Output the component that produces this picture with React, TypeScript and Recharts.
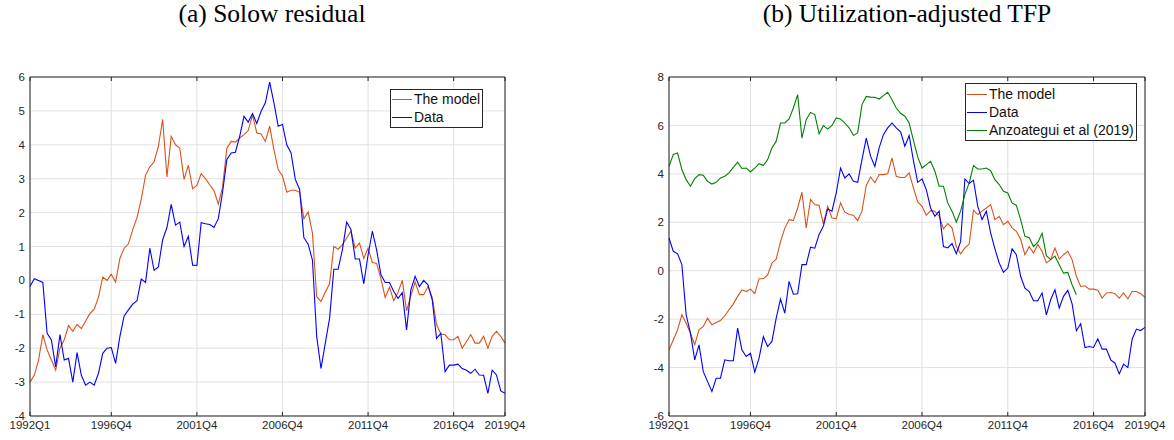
import * as React from "react";
import { LineChart, Line, XAxis, YAxis, CartesianGrid, Legend } from "recharts";

// quarterly sample 1992Q1 .. 2019Q4
const quarters = Array.from({ length: 112 }, (_, i) => `${1992 + Math.floor(i / 4)}Q${(i % 4) + 1}`);
const quarterTicks = ["1992Q1", "1996Q4", "2001Q4", "2006Q4", "2011Q4", "2016Q4", "2019Q4"];

// (a) Solow residual
const solowModel = [
  -3.0, -2.8, -2.35, -1.6, -2.05, -2.35, -2.65, -2.0, -1.75, -1.33, -1.5, -1.3, -1.42, -1.2, -0.98, -0.85,
  -0.5, 0.1, 0.0, 0.18, -0.05, 0.65, 0.95, 1.08, 1.5, 1.85, 2.4, 3.1, 3.35, 3.5, 3.95, 4.75,
  3.05, 4.25, 4.0, 3.9, 2.98, 3.4, 2.7, 2.8, 3.15, 3.0, 2.82, 2.65, 2.25, 2.75, 3.9, 4.1,
  4.08, 4.2, 4.3, 4.42, 4.88, 4.35, 4.32, 4.1, 4.55, 3.86, 3.27, 3.08, 2.6, 2.66, 2.66, 2.6,
  1.82, 2.02, 1.4, -0.48, -0.62, -0.35, -0.1, 1.0, 0.92, 1.05, 1.25, 1.45, 0.95, 1.1, 0.65, 0.95,
  0.53, 0.5, 0.05, -0.5, -0.2, -0.6, -0.35, 0.0, -0.9, -0.45, -0.05, -0.42, -0.42, -0.18, -0.5, -1.3,
  -1.58, -1.6, -1.75, -1.75, -1.65, -2.0, -1.8, -1.6, -1.85, -1.85, -1.65, -2.0, -1.65, -1.5, -1.65, -1.85,
];
const solowData = [
  -0.18, 0.05, 0.0, -0.06, -1.56, -1.76, -2.55, -1.6, -2.35, -2.3, -3.0, -2.13, -2.8, -3.09, -3.0, -3.09,
  -2.74, -2.15, -2.0, -1.98, -2.45, -1.66, -1.05, -0.87, -0.7, -0.6, 0.04, -0.06, 0.95, 0.3, 0.4, 1.2,
  1.56, 2.24, 1.63, 1.72, 1.0, 1.3, 0.45, 0.44, 1.7, 1.67, 1.65, 1.56, 1.82, 2.6, 3.57, 3.76,
  3.78, 4.25, 4.84, 4.67, 4.92, 4.63, 4.99, 5.24, 5.85, 5.24, 4.55, 4.6, 4.0, 3.76, 2.98, 2.69,
  1.26, 1.07, 0.6, -1.66, -2.6, -1.86, -1.12, 0.33, 0.33, 0.9, 1.72, 1.5, 0.63, 0.63, -0.1, 0.75,
  1.45, 0.9, 0.17, -0.06, -0.06, -0.33, -0.53, -0.36, -1.46, -0.28, 0.12, -0.18, 0.0, -0.13, -0.58, -1.71,
  -1.56, -2.69, -2.5, -2.5, -2.47, -2.6, -2.65, -2.74, -2.62, -2.79, -2.8, -3.33, -2.65, -2.79, -3.26, -3.33,
];

// (b) Utilization-adjusted TFP
const tfpModel = [
  -3.27, -2.86, -2.44, -1.82, -2.17, -2.58, -3.06, -2.44, -2.3, -1.96, -2.23, -2.14, -2.06, -1.86, -1.61, -1.37,
  -1.06, -0.79, -0.86, -0.76, -0.95, -0.33, -0.33, -0.17, 0.32, 0.48, 1.2, 1.75, 2.11, 2.07, 2.59, 3.24,
  1.77, 2.94, 2.73, 2.7, 1.93, 2.66, 2.18, 2.15, 2.8, 2.42, 2.32, 2.29, 2.07, 2.46, 3.52, 3.87,
  3.63, 3.97, 3.97, 4.0, 4.66, 3.9, 3.85, 3.85, 4.04, 3.42, 2.84, 2.66, 2.29, 2.48, 2.46, 2.25,
  1.73, 1.95, 1.77, 1.0, 0.7, 0.94, 1.1, 2.5, 2.32, 2.46, 2.59, 2.73, 2.11, 2.25, 1.9, 2.04,
  1.77, 1.63, 1.3, 0.66, 1.0, 0.73, 1.08, 0.8, 0.32, 0.46, 0.94, 0.48, 0.66, 0.8, 0.46, -0.23,
  -0.65, -0.62, -0.76, -0.76, -0.81, -1.13, -0.92, -0.9, -0.95, -1.13, -0.92, -1.16, -0.86, -0.86, -0.95, -1.1,
];
const tfpData = [
  1.35, 0.8, 0.7, 0.25, -1.82, -2.58, -3.68, -3.06, -4.17, -4.58, -4.99, -4.44, -4.44, -3.68, -3.72, -3.72,
  -2.37, -3.27, -3.54, -3.41, -4.19, -3.61, -2.72, -3.13, -2.92, -1.96, -1.17, -1.75, -0.44, -0.97, -0.95, 0.25,
  0.25, 0.97, 0.93, 1.5, 1.84, 2.55, 2.46, 3.21, 4.24, 3.83, 4.0, 3.69, 3.65, 4.59, 5.48, 4.73,
  4.31, 5.07, 5.62, 5.9, 6.1, 5.9, 5.74, 5.14, 5.58, 4.55, 3.65, 3.79, 3.35, 2.59, 2.25, 2.46,
  1.0, 0.94, 1.12, 0.7, 1.2, 3.79, 3.6, 3.74, 2.66, 2.11, 2.46, 1.56, 0.9, 0.32, -0.07, 0.11,
  0.9, 0.66, -0.23, -0.72, -0.86, -1.24, -1.24, -0.92, -1.82, -1.2, -0.79, -1.54, -1.06, -0.81, -1.37, -2.48,
  -2.19, -3.17, -3.13, -3.17, -2.81, -3.24, -3.24, -3.68, -3.82, -4.26, -3.86, -4.0, -2.83, -2.41, -2.47, -2.34,
];
// Anzoategui et al (2019) series stops in 2015Q4
const tfpAnzoategui = [
  4.31, 4.8, 4.86, 4.18, 3.76, 3.49, 3.8, 3.97, 3.94, 3.69, 3.58, 3.65, 3.83, 3.9, 4.04, 4.27,
  4.48, 4.22, 4.24, 4.08, 4.24, 4.42, 4.34, 4.59, 5.07, 5.35, 6.1, 6.1, 6.27, 6.72, 7.27, 5.48,
  6.24, 6.54, 6.45, 5.66, 5.99, 5.85, 6.0, 6.31, 6.27, 6.1, 5.9, 5.59, 5.69, 6.86, 7.2, 7.17,
  7.16, 7.09, 7.23, 7.37, 7.06, 6.72, 6.5, 6.38, 6.1, 5.38, 4.7, 4.24, 4.38, 4.52, 4.11, 3.49,
  3.49, 2.8, 2.46, 2.0, 2.46, 3.14, 3.63, 4.34, 4.2, 4.2, 4.24, 4.13, 3.76, 3.56, 3.28, 3.21,
  2.8, 2.7, 2.11, 1.42, 1.36, 1.0, 1.17, 1.55, 0.62, 0.46, 0.6, 0.25, -0.1, -0.07, -0.58, -0.99,
];

const solowTicks = [-4, -3, -2, -1, 0, 1, 2, 3, 4, 5, 6];
const tfpTicks = [-6, -4, -2, 0, 2, 4, 6, 8];

const seriesOrder = ["The model", "Data", "Anzoategui et al (2019)"];

const ORANGE = "#D95319";
const BLUE = "#0000FF";
const GREEN = "#008000";
const AXIS = "#262626";
const GRID = "#e0e0e0";

const solowRows = quarters.map((q, i) => ({ idx: i, q, model: solowModel[i], data: solowData[i] }));
const tfpRows = quarters.map((q, i) => ({
  idx: i,
  q,
  model: tfpModel[i],
  data: tfpData[i],
  anz: i < tfpAnzoategui.length ? tfpAnzoategui[i] : null,
}));

const tickIdx = quarterTicks.map((t) => quarters.indexOf(t));
const blank = () => "";

function legendBox(rowH: number) {
  return ({ payload }: any) => {
    const items = [...(payload || [])].sort(
      (a: any, b: any) => seriesOrder.indexOf(a.value) - seriesOrder.indexOf(b.value)
    );
    return (
      <div
        style={{
          border: `1px solid ${AXIS}`,
          background: "#fff",
          padding: "1px 2px 1px 1px",
          fontSize: 14,
          lineHeight: `${rowH}px`,
          fontFamily: "'Liberation Sans', Arial, sans-serif",
          color: "#111",
        }}
      >
        {items.map((p: any) => (
          <div key={p.value} style={{ display: "flex", alignItems: "center", whiteSpace: "nowrap" }}>
            <span style={{ display: "inline-block", width: 20, borderTop: `1px solid ${p.color}`, marginRight: 2 }} />
            {p.value}
          </div>
        ))}
      </div>
    );
  };
}

interface PanelProps {
  rows: any[];
  yTicks: number[];
  yWidth: number;
  width: number;
  legendPos: { left: number; top: number };
  rowH: number;
  children: React.ReactNode;
}

function Panel({ rows, yTicks, yWidth, width, legendPos, rowH, children }: PanelProps) {
  const dom: [number, number] = [yTicks[0], yTicks[yTicks.length - 1]];
  return (
    <LineChart
      width={width}
      height={440}
      data={rows}
      margin={{ top: 77, right: 35, bottom: 0, left: 0 }}
      style={{ fontFamily: "'Liberation Sans', Arial, sans-serif" }}
    >
      <CartesianGrid xAxisId="b" yAxisId="l" stroke={GRID} strokeWidth={1} />
      <XAxis
        xAxisId="b"
        type="number"
        dataKey="idx"
        domain={[0, quarters.length - 1]}
        ticks={tickIdx}
        interval={0}
        tickFormatter={(v: number) => quarters[v]}
        tickLine={false}
        tickSize={0}
        tickMargin={5}
        height={24}
        axisLine={{ stroke: AXIS }}
        tick={{ fontSize: 11.5, fill: AXIS }}
      />
      <XAxis xAxisId="bm" type="number" dataKey="idx" domain={[0, quarters.length - 1]} ticks={tickIdx}
        interval={0} mirror tickSize={4} tickFormatter={blank} axisLine={false} tickLine={{ stroke: AXIS }} height={24} />
      <XAxis xAxisId="t" orientation="top" type="number" dataKey="idx" domain={[0, quarters.length - 1]}
        ticks={tickIdx} interval={0} mirror tickSize={4} tickFormatter={blank} axisLine={{ stroke: AXIS }}
        tickLine={{ stroke: AXIS }} />
      <YAxis
        yAxisId="l"
        domain={dom}
        ticks={yTicks}
        interval={0}
        width={yWidth}
        tickLine={false}
        tickSize={0}
        tickMargin={5}
        axisLine={{ stroke: AXIS }}
        tick={{ fontSize: 11.5, fill: AXIS }}
      />
      <YAxis yAxisId="lm" domain={dom} ticks={yTicks} interval={0} mirror tickSize={4} tickFormatter={blank}
        axisLine={false} tickLine={{ stroke: AXIS }} />
      <YAxis yAxisId="r" orientation="right" domain={dom} ticks={yTicks} interval={0} mirror tickSize={4}
        tickFormatter={blank} axisLine={{ stroke: AXIS }} tickLine={{ stroke: AXIS }} />
      <Legend
        layout="vertical"
        align="center"
        verticalAlign="middle"
        content={legendBox(rowH)}
        wrapperStyle={{ position: "absolute", left: legendPos.left, top: legendPos.top, width: "auto", height: "auto" }}
      />
      {children}
    </LineChart>
  );
}

const titleStyle: React.CSSProperties = {
  position: "absolute",
  top: -1,
  fontFamily: "'Liberation Serif', 'Times New Roman', serif",
  fontSize: 25.5,
  lineHeight: "30px",
  color: "#000",
  whiteSpace: "nowrap",
  transform: "translateX(-50%)",
};

export default function App() {
  return (
    <div style={{ position: "absolute", left: 0, top: 0, width: 1174, height: 440, background: "#fff", overflow: "hidden" }}>
      <div style={{ ...titleStyle, left: 272 }}>(a) Solow residual</div>
      <div style={{ ...titleStyle, left: 907 }}>(b) Utilization-adjusted TFP</div>

      <div style={{ position: "absolute", left: 0, top: 0 }}>
        <Panel rows={solowRows} yTicks={solowTicks} yWidth={30} width={540} legendPos={{ left: 390, top: 89 }} rowH={17.5}>
          <Line xAxisId="b" yAxisId="l" type="linear" dataKey="model" name="The model" stroke={ORANGE}
            strokeWidth={1.1} dot={false} isAnimationActive={false} />
          <Line xAxisId="b" yAxisId="l" type="linear" dataKey="data" name="Data" stroke={BLUE}
            strokeWidth={1.1} dot={false} isAnimationActive={false} />
        </Panel>
      </div>

      <div style={{ position: "absolute", left: 620, top: 0 }}>
        <Panel rows={tfpRows} yTicks={tfpTicks} yWidth={49} width={560} legendPos={{ left: 345, top: 83 }} rowH={18}>
          <Line xAxisId="b" yAxisId="l" type="linear" dataKey="model" name="The model" stroke={ORANGE}
            strokeWidth={1.1} dot={false} isAnimationActive={false} />
          <Line xAxisId="b" yAxisId="l" type="linear" dataKey="data" name="Data" stroke={BLUE}
            strokeWidth={1.1} dot={false} isAnimationActive={false} />
          <Line xAxisId="b" yAxisId="l" type="linear" dataKey="anz" name="Anzoategui et al (2019)" stroke={GREEN}
            strokeWidth={1.1} dot={false} isAnimationActive={false} />
        </Panel>
      </div>
    </div>
  );
}
